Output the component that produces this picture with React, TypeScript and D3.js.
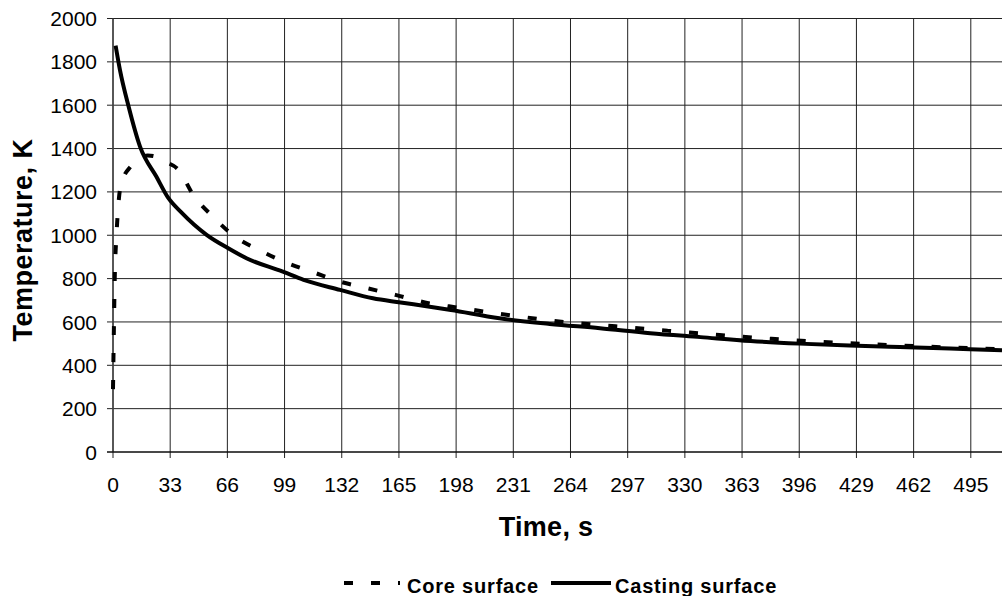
import React from "react";
import * as d3 from "d3";

const yTicks = [0, 200, 400, 600, 800, 1000, 1200, 1400, 1600, 1800, 2000];
const xTicks = [0, 33, 66, 99, 132, 165, 198, 231, 264, 297, 330, 363, 396, 429, 462, 495];

const castingTime = [1.5, 4, 9, 15.6, 25, 32, 39, 54, 66.5, 77, 98, 110, 131, 150, 166, 195, 223, 252, 281, 310, 339, 368, 396, 425, 454, 483, 513];
const castingTemp = [1875, 1763, 1594, 1409, 1271, 1171, 1109, 1002, 940, 894, 832, 794, 748, 709, 690, 655, 617, 591, 571, 548, 530, 512, 500, 491, 484, 477, 470];

const coreTime = [0, 0.5, 1, 2, 3, 4, 6, 10, 15, 20, 25, 30, 38, 46, 58, 69, 85, 100, 116, 131, 147, 163, 180, 200, 230, 260, 290, 320, 350, 380, 410, 440, 470, 513];
const coreTemp = [290, 560, 800, 1000, 1130, 1210, 1265, 1315, 1350, 1368, 1362, 1340, 1300, 1190, 1083, 1002, 929, 874, 828, 786, 755, 725, 690, 665, 630, 600, 580, 560, 540, 522, 508, 496, 486, 474];

const W = 1002;
const H = 596;
const L = 113;
const R = 1002;
const T = 18.5;
const B = 452;

export default function App() {
  const x = d3.scaleLinear().domain([0, 513]).range([L, R]);
  const y = d3.scaleLinear().domain([0, 2000]).range([B, T]);
  const line = d3
    .line<[number, number]>()
    .x((d) => x(d[0]))
    .y((d) => y(d[1]))
    .curve(d3.curveMonotoneX);
  const casting = line(castingTime.map((t, i) => [t, castingTemp[i]]) as [number, number][]) || "";
  const core = line(coreTime.map((t, i) => [t, coreTemp[i]]) as [number, number][]) || "";
  const font = "'Liberation Sans', Arial, sans-serif";
  return (
    <svg width={W} height={H} style={{ position: "absolute", left: 0, top: 0, background: "#fff" }} fontFamily={font}>
      <rect x={0} y={0} width={W} height={H} fill="#fff" />
      {yTicks.map((v) => (
        <g key={"y" + v}>
          <line x1={L - 6} x2={R} y1={y(v)} y2={y(v)} stroke="#222" strokeWidth={1} />
          <text x={97} y={y(v)} dy="0.36em" textAnchor="end" fontSize={21} fill="#000">
            {v}
          </text>
        </g>
      ))}
      {xTicks.map((v) => (
        <g key={"x" + v}>
          <line x1={x(v)} x2={x(v)} y1={T} y2={B + 6} stroke="#222" strokeWidth={1} />
          <text x={x(v)} y={484} dy="0.36em" textAnchor="middle" fontSize={21} fill="#000">
            {v}
          </text>
        </g>
      ))}
      <line x1={L} x2={L} y1={T} y2={B} stroke="#444" strokeWidth={1.5} />
      <line x1={L - 6} x2={R} y1={B} y2={B} stroke="#000" strokeWidth={1} />
      <path d={core} fill="none" stroke="#000" strokeWidth={4} strokeDasharray="9,18" />
      <path d={casting} fill="none" stroke="#000" strokeWidth={4} />
      <text x={546} y={536} textAnchor="middle" fontSize={27} fontWeight="bold" letterSpacing={0.3}>
        Time, s
      </text>
      <text
        transform={`translate(22,240) rotate(-90)`}
        dy="0.36em"
        textAnchor="middle"
        fontSize={27}
        fontWeight="bold"
        letterSpacing={0.5}
      >
        Temperature, K
      </text>
      <line x1={344} x2={400} y1={583} y2={583} stroke="#000" strokeWidth={4} strokeDasharray="9,18" />
      <text x={407} y={593} fontSize={20} fontWeight="bold" letterSpacing={0.8}>
        Core surface
      </text>
      <line x1={551} x2={611} y1={583} y2={583} stroke="#000" strokeWidth={4} />
      <text x={615} y={593} fontSize={20} fontWeight="bold" letterSpacing={0.8}>
        Casting surface
      </text>
    </svg>
  );
}
